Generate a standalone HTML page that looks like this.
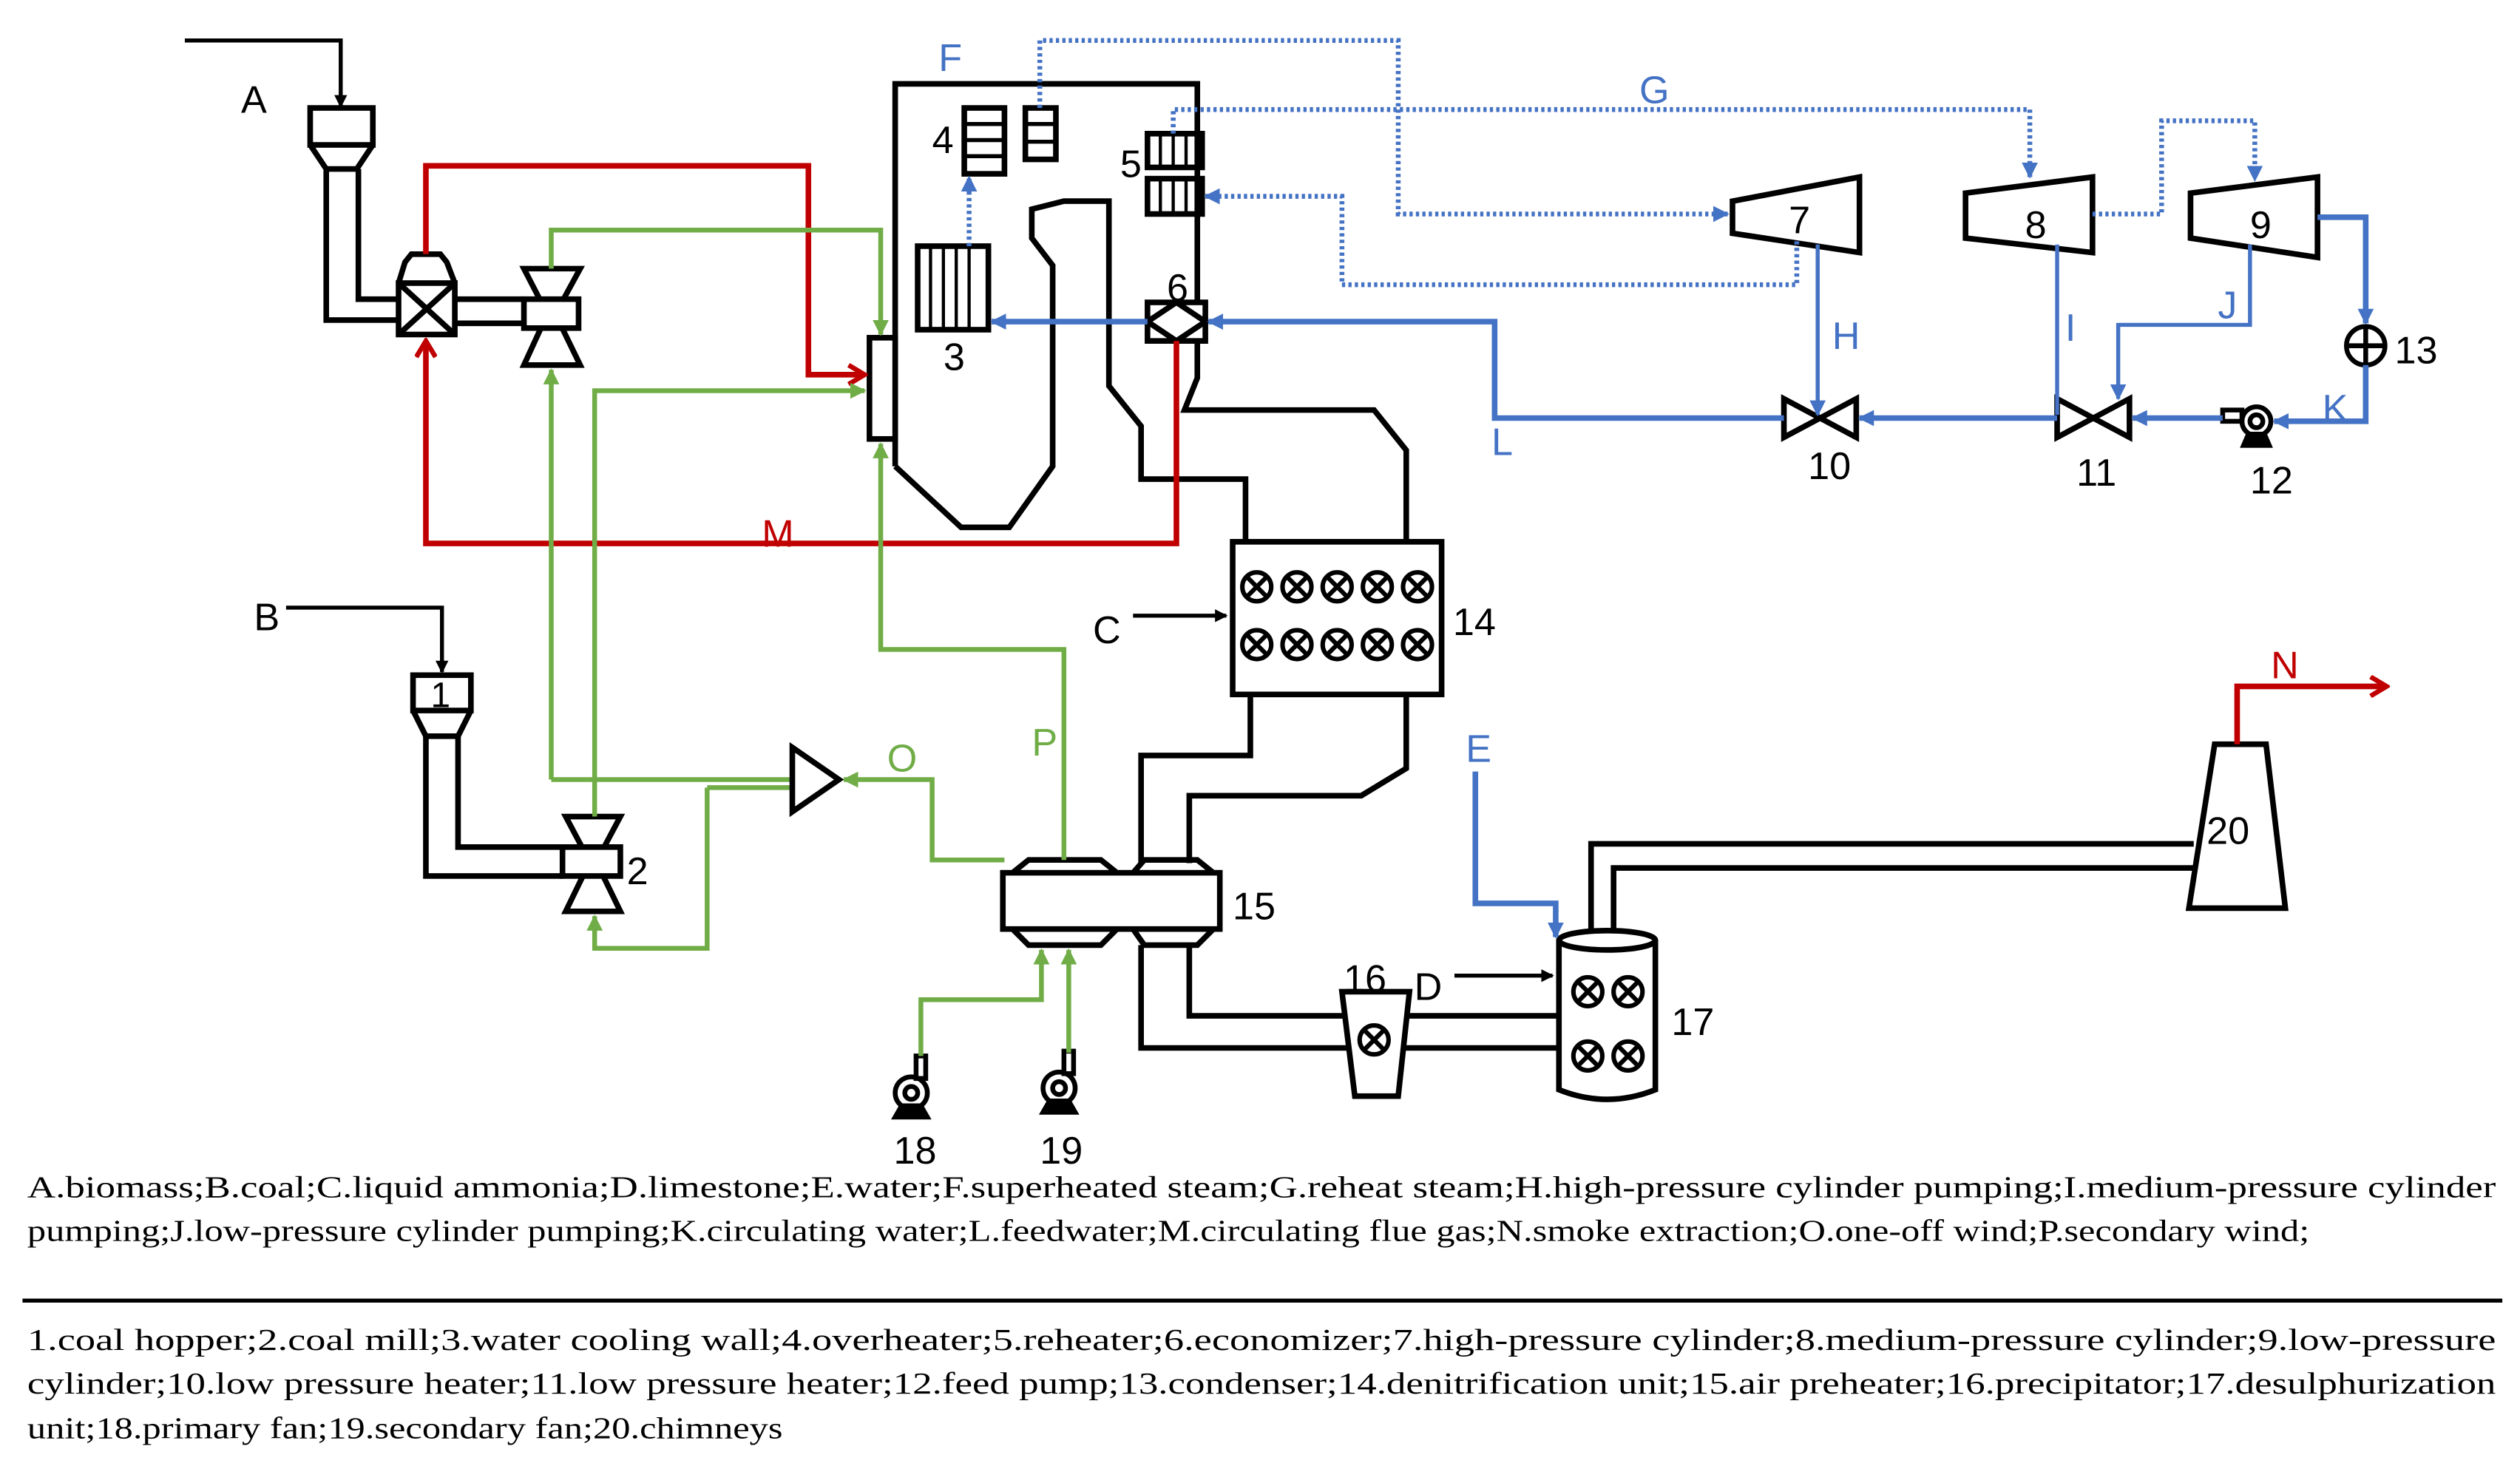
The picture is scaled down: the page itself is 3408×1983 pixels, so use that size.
<!DOCTYPE html>
<html><head><meta charset="utf-8"><style>html,body{margin:0;padding:0;background:#fff}svg{display:block}</style></head>
<body>
<svg width="3408" height="1983" viewBox="0 0 1568 912" xmlns="http://www.w3.org/2000/svg">
<defs>
<marker id="ak" markerWidth="8" markerHeight="8" refX="7" refY="4" orient="auto" markerUnits="userSpaceOnUse"><path d="M0,0 L8,4 L0,8 Z" fill="#000"/></marker>
<marker id="ab" markerWidth="10" markerHeight="10" refX="9" refY="5" orient="auto" markerUnits="userSpaceOnUse"><path d="M0,0 L10,5 L0,10 Z" fill="#4472c4"/></marker>
<marker id="ag" markerWidth="10" markerHeight="10" refX="9" refY="5" orient="auto" markerUnits="userSpaceOnUse"><path d="M0,0 L10,5 L0,10 Z" fill="#70ad47"/></marker>
<marker id="ar" markerWidth="14" markerHeight="14" refX="12" refY="7" orient="auto" markerUnits="userSpaceOnUse"><path d="M2,1 L12,7 L2,13" fill="none" stroke="#c00000" stroke-width="3"/></marker>
<g id="xc"><circle cx="0" cy="0" r="9"/><path d="M-6,-6L6,6M6,-6L-6,6"/></g>
</defs>
<rect width="1568" height="912" fill="#fff"/>
<g fill="none" stroke="#000" stroke-width="3.5" stroke-linejoin="miter">
<!-- A feed -->
<path d="M115,25 H212 V66" stroke-width="2.5" marker-end="url(#ak)"/>
<rect x="193" y="67" width="39" height="23" fill="#fff"/>
<path d="M193,90 L203,105 H222 L232,90"/>
<path d="M203,105 V199 H248 M223,105 V186 H248"/>
<!-- mill -->
<path d="M248,176 L252,163 L256,158 H274 L278,163 L283,176" />
<rect x="248" y="176" width="35" height="32" fill="#fff"/>
<path d="M248,176 L283,208 M283,176 L248,208"/>
<path d="M283,186 H326 M283,201 H326"/>
<!-- valve top -->
<path d="M326,167 H361 L343,200 Z M326,227 H361 L343,190 Z" fill="#fff"/>
<rect x="326" y="186" width="34" height="18" fill="#fff"/>
<path d="M343,186 L336,204 M343,186 L350,204" stroke-width="0"/>
<!-- B feed -->
<path d="M178,378 H275 V418" stroke-width="2.5" marker-end="url(#ak)"/>
<rect x="257" y="420" width="36" height="22" fill="#fff"/>
<path d="M257,442 L265,458 H285 L293,442"/>
<path d="M265,458 V545 H350 M285,458 V527 H350"/>
<path d="M352,508 H386 L369,540 Z M352,567 H386 L369,532 Z" fill="#fff"/>
<rect x="350" y="527" width="36" height="18" fill="#fff"/>
<!-- boiler -->
<path d="M557,290 V52 H745 V235 L737,255 H855 L875,280 V337"/>
<path d="M557,290 L598,328 H628 L655,290 V165 L642,148 V130 L662,125 H690 V240 L710,265 V298 H775 V337"/>
<rect x="541" y="210" width="16" height="63" fill="#fff"/>
<!-- 3 -->
<rect x="571" y="153" width="44" height="52"/>
<path d="M579,153V205M587,153V205M595,153V205M603,153V205" stroke-width="2"/>
<!-- 4 -->
<rect x="600" y="67" width="25" height="41"/>
<path d="M600,77H625M600,87H625M600,97H625" stroke-width="2.5"/>
<rect x="638" y="67" width="19" height="32"/>
<path d="M638,77H657M638,88H657" stroke-width="2.5"/>
<!-- 5 -->
<rect x="714" y="83" width="34" height="21"/>
<rect x="714" y="111" width="34" height="22"/>
<path d="M722,83V104M730,83V104M738,83V104M722,111V133M730,111V133M738,111V133" stroke-width="2"/>
<!-- 6 -->
<rect x="714" y="188" width="36" height="24" fill="#fff"/>
<path d="M714,200 L732,188 L750,200 L732,212 Z"/>
<!-- turbines -->
<path d="M1078,125 L1157,110 V157 L1078,145 Z"/>
<path d="M1223,120 L1302,110 V157 L1223,148 Z"/>
<path d="M1363,120 L1442,110 V160 L1363,148 Z"/>
<!-- valves 10 11 -->
<path d="M1110,248 V272 L1155,248 V272 Z"/>
<path d="M1280,248 V272 L1325,248 V272 Z"/>
<!-- 14 -->
<rect x="767" y="337" width="130" height="95"/>
<path d="M778,432 V470 H710 V537 M875,432 V478 L847,495 H740 V537"/>
<!-- 15 -->
<path d="M630,543 L640,535 H685 L695,543 M705,543 L712,535 H745 L755,543"/>
<rect x="624" y="543" width="135" height="35" fill="#fff"/>
<path d="M630,578 L640,588 H685 L695,578 M705,578 L712,588 H745 L755,578"/>
<path d="M710,588 V652 H970 M740,588 V632 H970"/>
<!-- 16 -->
<path d="M835,617 H877 L870,682 H843 Z" fill="#fff"/>
<!-- 17 -->
<path d="M970,585 V678 Q1000,690 1030,678 V585" fill="#fff"/>
<ellipse cx="1000" cy="585" rx="30" ry="6" fill="#fff"/>
<path d="M990,580 V525 H1365 M1004,580 V540 H1365"/>
<!-- 20 -->
<path d="M1378,463 H1410 L1422,565 H1362 Z" fill="#fff"/>
<path d="M705,383 H763" stroke-width="2.5" marker-end="url(#ak)"/>
<path d="M905,607 H966" stroke-width="2.5" marker-end="url(#ak)"/>
</g>
<g fill="none" stroke="#000" stroke-width="2.8">
<use href="#xc" x="782" y="365"/><use href="#xc" x="807" y="365"/><use href="#xc" x="832" y="365"/><use href="#xc" x="857" y="365"/><use href="#xc" x="882" y="365"/>
<use href="#xc" x="782" y="401"/><use href="#xc" x="807" y="401"/><use href="#xc" x="832" y="401"/><use href="#xc" x="857" y="401"/><use href="#xc" x="882" y="401"/>
<use href="#xc" x="855" y="647"/>
<use href="#xc" x="988" y="617"/><use href="#xc" x="1013" y="617"/><use href="#xc" x="988" y="657"/><use href="#xc" x="1013" y="657"/>
</g>
<!-- fans -->
<g fill="none" stroke="#000" stroke-width="3">
<circle cx="567" cy="680" r="10"/><circle cx="567" cy="680" r="4"/><rect x="570" y="657" width="6" height="14"/><path d="M557,695 L561,688 H573 L577,695 Z" fill="#000"/>
<circle cx="659" cy="677" r="10"/><circle cx="659" cy="677" r="4"/><rect x="662" y="654" width="6" height="14"/><path d="M649,692 L653,685 H665 L669,692 Z" fill="#000"/>
<circle cx="1404" cy="262" r="9"/><circle cx="1404" cy="262" r="4"/><path d="M1383,255 H1395 V262 H1383 Z"/><path d="M1396,277 L1399,270 H1409 L1412,277 Z" fill="#000"/>
<circle cx="1472" cy="215" r="12"/><path d="M1460,215 H1484 M1472,203 V227"/>
</g>
<!-- red -->
<g fill="none" stroke="#c00000" stroke-width="3.5">
<path d="M265,158 V103 H503 V233 H538" marker-end="url(#ar)"/>
<path d="M732,212 V338 H265 V212" marker-end="url(#ar)"/>
<path d="M1392,463 V427 H1485" marker-end="url(#ar)"/>
</g>
<!-- green -->
<g fill="none" stroke="#70ad47" stroke-width="3">
<path d="M343,167 V143 H548 V208" marker-end="url(#ag)"/>
<path d="M370,508 V243 H538" marker-end="url(#ag)"/>
<path d="M343,485 H492" />
<path d="M343,485 V230" marker-end="url(#ag)"/>
<path d="M440,490 H492 M440,490 V590 H370 V570" marker-end="url(#ag)"/>
<path d="M625,535 H580 V485 H525" marker-end="url(#ag)"/>
<path d="M662,535 V404 H548 V276" marker-end="url(#ag)"/>
<path d="M573,657 V622 H648 V591" marker-end="url(#ag)"/>
<path d="M665,655 V591" marker-end="url(#ag)"/>
</g>
<path d="M493,465 L522,485 L493,505 Z" fill="#fff" stroke="#000" stroke-width="3.5"/>
<!-- blue solid -->
<g fill="none" stroke="#4472c4" stroke-width="3.5">
<path d="M714,200 H617" marker-end="url(#ab)"/>
<path d="M1110,260 H930 V200 H752" marker-end="url(#ab)"/>
<path d="M1280,260 H1157" marker-end="url(#ab)"/>
<path d="M1383,260 H1327" marker-end="url(#ab)"/>
<path d="M1472,227 V262 H1415" marker-end="url(#ab)"/>
<path d="M1442,135 H1472 V201" marker-end="url(#ab)"/>
<path d="M918,480 V562 H968 V583" marker-end="url(#ab)"/>
</g>
<g fill="none" stroke="#4472c4" stroke-width="2.5">
<path d="M1131,152 V258" marker-end="url(#ab)"/>
<path d="M1280,152 V258"/>
<path d="M1400,152 V202 H1318 V248" marker-end="url(#ab)"/>
</g>
<!-- blue dotted -->
<g fill="none" stroke="#4472c4" stroke-width="3" stroke-dasharray="2 2">
<path d="M647,67 V25 H870 V133 H1075" marker-end="url(#ab)"/>
<path d="M730,83 V68 H1263 V110" marker-end="url(#ab)"/>
<path d="M1118,150 V177 H835 V122 H750" marker-end="url(#ab)"/>
<path d="M1302,133 H1345 V75 H1403 V112" marker-end="url(#ab)"/>
<path d="M603,153 V110" marker-end="url(#ab)"/>
</g>
<!-- labels -->
<g font-family="'Liberation Sans',sans-serif" font-size="24" fill="#000">
<text x="150" y="70">A</text><text x="158" y="392">B</text><text x="680" y="400">C</text>
<text x="880" y="622">D</text>
<text x="268" y="440" font-size="22">1</text><text x="390" y="550">2</text><text x="587" y="230">3</text>
<text x="580" y="95">4</text><text x="697" y="110">5</text><text x="726" y="187">6</text>
<text x="1113" y="145">7</text><text x="1260" y="148">8</text><text x="1400" y="148">9</text>
<text x="1125" y="298">10</text><text x="1292" y="302">11</text><text x="1400" y="307">12</text><text x="1490" y="226">13</text>
<text x="904" y="395">14</text><text x="767" y="572">15</text><text x="836" y="617">16</text><text x="1040" y="644">17</text>
<text x="556" y="724">18</text><text x="647" y="724">19</text><text x="1373" y="525">20</text>
</g>
<g font-family="'Liberation Sans',sans-serif" font-size="24" fill="#4472c4">
<text x="584" y="44">F</text><text x="1020" y="64">G</text><text x="1140" y="217">H</text><text x="1285" y="212">I</text><text x="1380" y="198">J</text><text x="1445" y="262">K</text><text x="928" y="283">L</text><text x="912" y="474">E</text>
</g>
<text x="474" y="340" font-family="'Liberation Sans',sans-serif" font-size="24" fill="#c00000">M</text>
<text x="1413" y="422" font-family="'Liberation Sans',sans-serif" font-size="24" fill="#c00000">N</text>
<text x="552" y="480" font-family="'Liberation Sans',sans-serif" font-size="24" fill="#70ad47">O</text>
<text x="642" y="470" font-family="'Liberation Sans',sans-serif" font-size="24" fill="#70ad47">P</text>
<!-- captions -->
<g font-family="'Liberation Serif',serif" font-size="19" fill="#000">
<text x="17" y="745" textLength="1536" lengthAdjust="spacingAndGlyphs">A.biomass;B.coal;C.liquid ammonia;D.limestone;E.water;F.superheated steam;G.reheat steam;H.high-pressure cylinder pumping;I.medium-pressure cylinder</text>
<text x="17" y="772" textLength="1420" lengthAdjust="spacingAndGlyphs">pumping;J.low-pressure cylinder pumping;K.circulating water;L.feedwater;M.circulating flue gas;N.smoke extraction;O.one-off wind;P.secondary wind;</text>
<text x="17" y="840" textLength="1536" lengthAdjust="spacingAndGlyphs">1.coal hopper;2.coal mill;3.water cooling wall;4.overheater;5.reheater;6.economizer;7.high-pressure cylinder;8.medium-pressure cylinder;9.low-pressure</text>
<text x="17" y="867" textLength="1536" lengthAdjust="spacingAndGlyphs">cylinder;10.low pressure heater;11.low pressure heater;12.feed pump;13.condenser;14.denitrification unit;15.air preheater;16.precipitator;17.desulphurization</text>
<text x="17" y="895" textLength="470" lengthAdjust="spacingAndGlyphs">unit;18.primary fan;19.secondary fan;20.chimneys</text>
</g>
<rect x="14" y="808" width="1543" height="2.5" fill="#000"/>
</svg>
</body></html>
